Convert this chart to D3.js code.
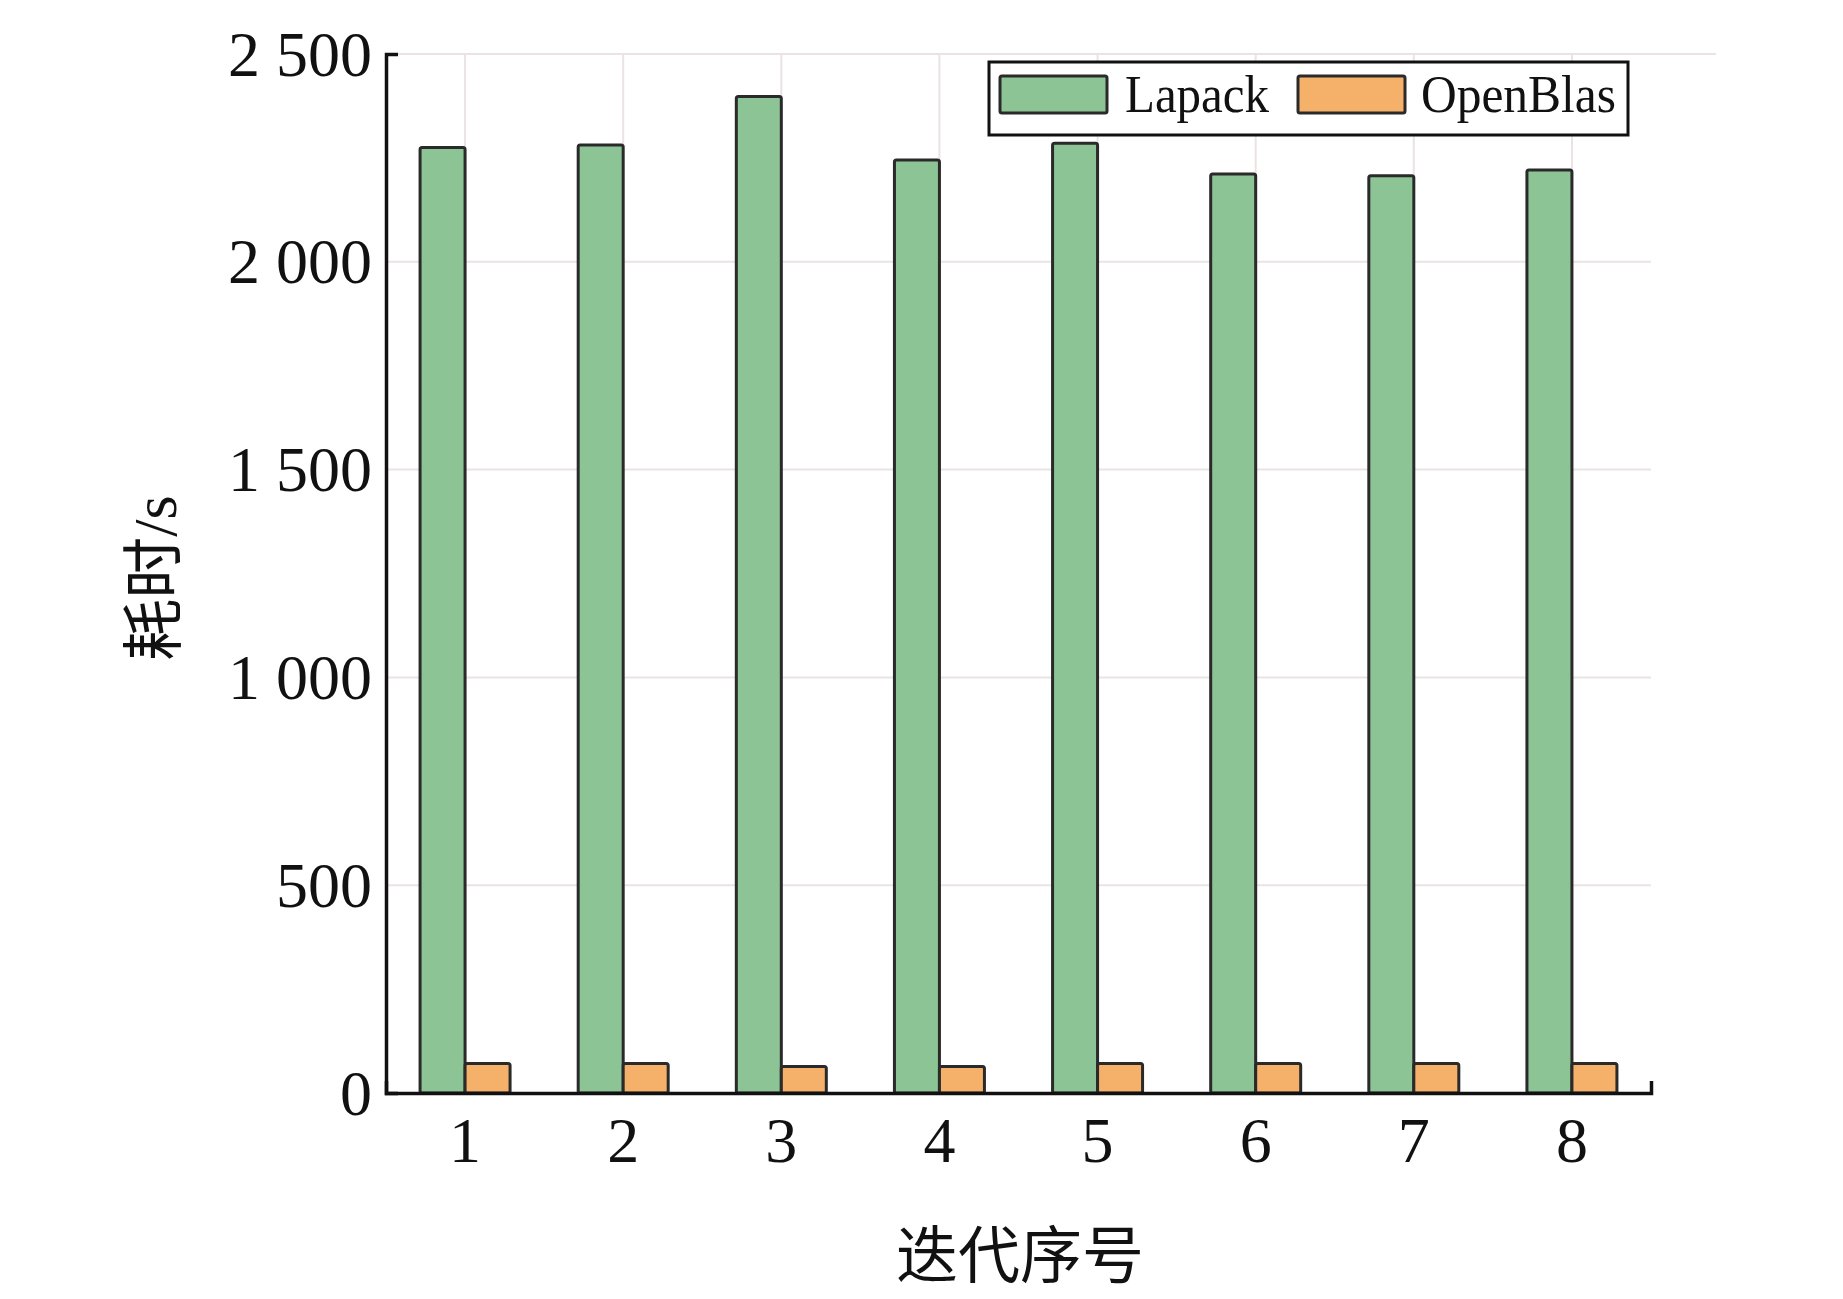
<!DOCTYPE html>
<html>
<head>
<meta charset="utf-8">
<script src="https://cdn.jsdelivr.net/npm/d3@7"></script>
<style>
  html, body { margin: 0; padding: 0; background: #fff; }
  svg { display: block; }
</style>
</head>
<body>
<svg id="chart" width="1843" height="1299"></svg>
<script>
const categories = ["1", "2", "3", "4", "5", "6", "7", "8"];
const seriesNames = ["Lapack", "OpenBlas"];
const lapack = [2275, 2281, 2398, 2245, 2285, 2211, 2207, 2221];
const openblas = [71, 71, 64, 64, 71, 71, 71, 71];
const yTicks = [0, 500, 1000, 1500, 2000, 2500];
const yTickLabels = ["0", "500", "1 000", "1 500", "2 000", "2 500"];
const xTitle = "迭代序号";
const yTitle = "耗时/s";
const colors = { Lapack: "#8cc495", OpenBlas: "#f5b16a" };

(function () {
const svg = d3.select("#chart");
const pLeft = 386, pRight = 1651, pTop = 54, pBottom = 1093;
const serif = "'Liberation Serif', 'Times New Roman', 'Noto Sans CJK SC', serif";

const x = d3.scaleBand().domain(categories).range([pLeft, pRight]).padding(0);
const x1 = d3.scaleBand().domain(seriesNames).range([-45, 45]).padding(0);
const y = d3.scaleLinear().domain([0, 2500]).range([pBottom, pTop]);

const values = { Lapack: lapack, OpenBlas: openblas };
const cx = c => x(c) + x.bandwidth() / 2;

// grid
const grid = svg.append("g").attr("stroke", "#ebe3e3").attr("stroke-width", 2);
grid.selectAll("line.h").data(yTicks.filter(d => d > 0)).join("line")
  .attr("x1", pLeft).attr("x2", d => d === 2500 ? 1716 : pRight)
  .attr("y1", d => y(d)).attr("y2", d => y(d));
grid.selectAll("line.v").data(categories).join("line")
  .attr("x1", cx).attr("x2", cx)
  .attr("y1", pTop).attr("y2", pBottom);

// bars
seriesNames.forEach(s => {
  svg.append("g").selectAll("rect").data(categories).join("rect")
    .attr("x", c => cx(c) + x1(s))
    .attr("width", x1.bandwidth())
    .attr("y", (c, i) => y(values[s][i]))
    .attr("height", (c, i) => y(0) - y(values[s][i]))
    .attr("rx", 2)
    .attr("fill", colors[s])
    .attr("stroke", "#2a2a2a")
    .attr("stroke-width", 3);
});

// axes
const yAxis = d3.axisLeft(y).tickValues(yTicks)
  .tickFormat((d, i) => yTickLabels[i])
  .tickSizeInner(0).tickSizeOuter(-12).tickPadding(14);
const gy = svg.append("g").attr("transform", `translate(${pLeft},0)`).call(yAxis);
gy.select(".domain").attr("stroke", "#111").attr("stroke-width", 3.5);
gy.selectAll("text").attr("font-family", serif).attr("font-size", 64)
  .attr("fill", "#111").attr("dy", "0.33em");

const xAxis = d3.axisBottom(x).tickSizeInner(0).tickSizeOuter(-12).tickPadding(0);
const gx = svg.append("g").attr("transform", `translate(0,${pBottom})`).call(xAxis);
gx.select(".domain").attr("stroke", "#111").attr("stroke-width", 3.5);
gx.selectAll("text").attr("font-family", serif).attr("font-size", 64)
  .attr("fill", "#111").attr("y", 69).attr("dy", 0);

// titles
svg.append("text").attr("x", 1020).attr("y", 1278)
  .attr("text-anchor", "middle").attr("font-family", serif)
  .attr("font-size", 62).attr("fill", "#111").text(xTitle);
svg.append("text")
  .attr("transform", "translate(176,578) rotate(-90)")
  .attr("text-anchor", "middle").attr("font-family", serif)
  .attr("font-size", 62).attr("fill", "#111").text(yTitle);

// legend
const lg = svg.append("g");
lg.append("rect").attr("x", 989).attr("y", 62).attr("width", 639).attr("height", 73)
  .attr("fill", "#fff").attr("stroke", "#111").attr("stroke-width", 3);
const legendItems = [
  { name: "Lapack", sx: 1000, tx: 1125, tl: 144 },
  { name: "OpenBlas", sx: 1298, tx: 1421, tl: 195 }
];
legendItems.forEach(it => {
  lg.append("rect").attr("x", it.sx).attr("y", 76).attr("width", 107).attr("height", 37)
    .attr("rx", 2).attr("fill", colors[it.name]).attr("stroke", "#2a2a2a").attr("stroke-width", 3);
  lg.append("text").attr("x", it.tx).attr("y", 112)
    .attr("font-family", serif).attr("font-size", 52).attr("fill", "#111")
    .attr("textLength", it.tl).attr("lengthAdjust", "spacingAndGlyphs")
    .text(it.name);
});
})();
</script>
</body>
</html>
